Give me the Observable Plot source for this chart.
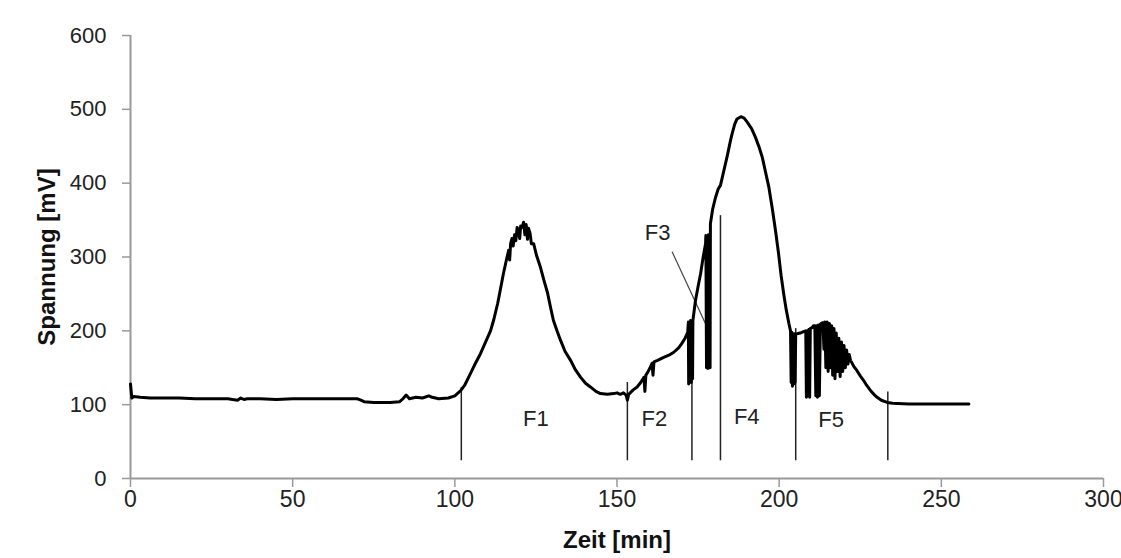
<!DOCTYPE html>
<html>
<head>
<meta charset="utf-8">
<script src="https://cdn.jsdelivr.net/npm/d3@7"></script>
<script src="https://cdn.jsdelivr.net/npm/@observablehq/plot@0.6"></script>
<style>
  html, body { margin: 0; padding: 0; background: #fff; }
  #chart svg { display: block; }
</style>
</head>
<body>
<div id="chart"></div>
<script>
// Elution time (min)
const time = [
  0, 0.4, 1, 3, 6, 10, 15, 20, 25, 30, 33, 34, 35, 36, 40, 45, 50, 55, 60, 65, 68, 70, 71, 72, 75, 80, 83, 84, 85, 86, 88, 90, 92, 93, 95, 98, 100,
  101.8, 103, 104.8, 106, 107.9, 109.5, 111, 112, 113.2, 114, 115, 116, 116.6, 116.9, 117.2, 117.6, 118, 118.4, 118.8, 119.2, 119.6, 120, 120.3, 120.7, 121.2, 121.6, 122, 122.4, 122.7, 123.2, 123.6, 124.3, 125.2, 126.4, 127.5, 128.6, 129.5, 130.4, 131.5, 132.6, 134, 135.7, 137.2, 138.8, 140.3, 141.8, 143.5, 144.9, 147, 149, 150, 151, 152, 152.8, 153.2, 153.6, 155, 156.2, 157.3, 158.3, 158.6, 158.9, 159.5, 160.2, 160.8, 161.1, 161.4, 162.5, 164.4, 166, 167.5, 169, 170, 171, 171.8,
  172, 172.1, 172.3, 172.5, 172.7, 172.9, 173.1, 173.3, 173.4, 174.2, 175, 175.8, 176.5, 177.3, 177.4, 177.6, 177.8, 178, 178.2, 178.4, 178.6, 178.7, 178.8, 179.5, 180.4, 181.2, 181.9, 183, 184, 185, 185.5, 186.3, 187, 188.2, 189.2, 190.1, 191.5, 192.7, 193.8, 194.8, 195.8, 196.8, 197.9, 198.9, 199.8, 200.6, 201.4, 202.2, 203, 203.5,
  203.7, 203.9, 204.1, 204.3, 204.5, 204.7, 204.9, 205.1, 205.5, 206.5, 207.5, 208.2, 208.4, 208.7, 208.9, 209.2, 209.4, 209.6, 210.3, 210.6, 211, 211.3, 211.6, 211.8, 212.1, 212.4, 212.7, 213, 213.5, 213.8, 214.1, 214.4, 214.8, 215.1, 215.5, 215.8, 216.2, 216.5, 216.9, 217.2, 217.6, 218, 218.4, 218.8, 219.2, 219.6, 220, 220.4, 220.8, 221.2, 221.6, 222,
  223, 224, 225, 226, 227, 228.2, 229.2, 230.2, 231.5, 233.3, 235, 240, 245, 250, 255, 258.5
];
// Detector voltage (mV)
const voltage = [
  128, 109, 111, 110, 109, 109, 109, 108, 108, 108, 106, 109, 107, 108, 108, 107, 108, 108, 108, 108, 108, 108, 106, 104, 103, 103, 104, 108, 113, 108, 110, 109, 112, 110, 108, 109, 112,
  119, 126, 142, 153, 169, 185, 200, 215, 237, 255, 278, 298, 309, 296, 318, 325, 315, 330, 322, 340, 336, 325, 342, 340, 347, 330, 344, 324, 339, 332, 318, 318, 302, 286, 268, 251, 232, 214, 200, 187, 172, 160, 147, 137, 129, 124, 118, 115, 114, 115, 116, 114, 116, 113, 106, 114, 120, 124, 130, 137, 118, 140, 144, 150, 156, 140, 158, 160, 164, 167, 171, 177, 183, 190, 198,
  212, 128, 210, 132, 214, 130, 213, 135, 214, 241, 260, 278, 298, 318, 329, 150, 328, 149, 330, 152, 330, 150, 345, 365, 381, 392, 397, 418, 437, 458, 467, 480, 487, 490, 488, 483, 474, 462, 449, 435, 415, 395, 365, 335, 305, 275, 250, 228, 210, 200,
  130, 198, 125, 196, 128, 196, 130, 195, 196, 197, 199, 200, 110, 200, 112, 202, 110, 203, 205, 207, 207, 112, 207, 110, 208, 112, 209, 210, 211, 175, 212, 150, 212, 145, 210, 150, 207, 140, 203, 135, 197, 145, 190, 138, 185, 145, 180, 150, 174, 155, 168, 160,
  152, 146, 139, 133, 126, 119, 114, 110, 106, 103, 102, 101, 101, 101, 101, 101
];

// Fraction boundaries
const fracTime = [102, 153.2, 173.1, 181.9, 205.1, 233.5];
const fracTop = [123, 130, 212, 356, 203, 117];
const fracBottom = [24, 24, 24, 24, 24, 24];

// Fraction labels
const labelText = ["F1", "F2", "F3", "F4", "F5"];
const labelTime = [125, 161.5, 162.5, 190, 216];
const labelVolt = [81, 81, 333, 84, 79];

// F3 leader line
const leaderTime = [167, 177.8];
const leaderVolt = [307, 205];

const xTicks = [0, 50, 100, 150, 200, 250, 300];
const yTicks = [0, 100, 200, 300, 400, 500, 600];

const series = time.map((t, i) => ({t, v: voltage[i]}));
const fractions = fracTime.map((t, i) => ({t, y1: fracBottom[i], y2: fracTop[i]}));
const labels = labelText.map((s, i) => ({s, t: labelTime[i], v: labelVolt[i]}));

const axisGray = "#999";
const textCol = "#222";

const chart = Plot.plot({
  width: 1121,
  height: 558,
  marginLeft: 130,
  marginRight: 18,
  marginTop: 35,
  marginBottom: 80,
  style: {background: "#fff", fontFamily: "'Liberation Sans', Arial, sans-serif"},
  x: {domain: [0, 300]},
  y: {domain: [0, 600]},
  marks: [
    Plot.axisX({ticks: xTicks, tickSize: 9, tickPadding: 3, stroke: axisGray, strokeWidth: 1.5, fill: textCol,
      fontSize: 23, fontFamily: "'Liberation Sans Narrow', 'Arial Narrow', sans-serif", label: null}),
    Plot.axisY({ticks: yTicks, tickSize: 8, tickPadding: 16, stroke: axisGray, strokeWidth: 1.5, fill: textCol,
      fontSize: 22, fontFamily: "'Liberation Sans', Arial, sans-serif", label: null}),
    Plot.ruleY([0], {stroke: axisGray, strokeWidth: 2}),
    Plot.ruleX([0], {stroke: axisGray, strokeWidth: 2}),
    Plot.ruleX(fractions, {x: "t", y1: "y1", y2: "y2", stroke: "#222", strokeWidth: 1.5}),
    Plot.link([{x1: leaderTime[0], y1: leaderVolt[0], x2: leaderTime[1], y2: leaderVolt[1]}],
      {x1: "x1", y1: "y1", x2: "x2", y2: "y2", stroke: "#444", strokeWidth: 1.2}),
    Plot.line(series, {x: "t", y: "v", stroke: "#000", strokeWidth: 3, strokeLinejoin: "round"}),
    Plot.text(labels, {x: "t", y: "v", text: "s", fill: textCol, fontSize: 22,
      fontFamily: "'Liberation Sans Narrow', 'Arial Narrow', sans-serif"}),
    Plot.text(["Spannung [mV]"], {frameAnchor: "left", textAnchor: "middle", dx: -83, rotate: -90, text: d => d,
      fontWeight: "bold", fontSize: 24, fill: "#111", fontFamily: "'Liberation Sans', Arial, sans-serif"}),
    Plot.text(["Zeit [min]"], {frameAnchor: "bottom", dy: 69, text: d => d,
      fontWeight: "bold", fontSize: 24, fill: "#111", fontFamily: "'Liberation Sans Narrow', 'Arial Narrow', sans-serif"})
  ]
});
document.getElementById("chart").appendChild(chart);
</script>
</body>
</html>
